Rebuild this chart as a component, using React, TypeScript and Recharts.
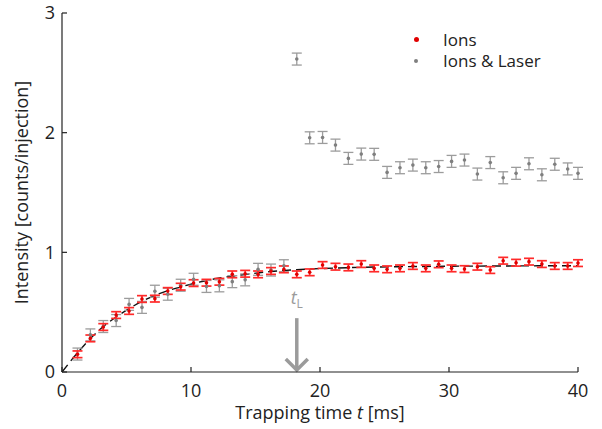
import React from 'react';
import {
  ComposedChart,
  Scatter,
  Line,
  XAxis,
  YAxis,
  ErrorBar,
  ReferenceLine,
} from 'recharts';

// measurement times [ms]
const times = [
  1.2, 2.2, 3.2, 4.2, 5.2, 6.2, 7.2, 8.2, 9.2, 10.2,
  11.2, 12.2, 13.2, 14.2, 15.2, 16.2, 17.2, 18.2, 19.2, 20.2,
  21.2, 22.2, 23.2, 24.2, 25.2, 26.2, 27.2, 28.2, 29.2, 30.2,
  31.2, 32.2, 33.2, 34.2, 35.2, 36.2, 37.2, 38.2, 39.2, 40,
];

const ions = [
  0.148, 0.281, 0.376, 0.476, 0.51, 0.61, 0.613, 0.677, 0.713, 0.743,
  0.746, 0.754, 0.816, 0.821, 0.816, 0.844, 0.858, 0.816, 0.833, 0.894,
  0.88, 0.874, 0.902, 0.866, 0.858, 0.866, 0.886, 0.866, 0.9, 0.866,
  0.86, 0.88, 0.852, 0.93, 0.913, 0.922, 0.902, 0.886, 0.886, 0.91,
];

const ionsLaser = [
  0.15, 0.31, 0.38, 0.43, 0.565, 0.54, 0.675, 0.65, 0.725, 0.775,
  0.715, 0.72, 0.755, 0.77, 0.858, 0.852, 0.888, 2.615, 1.957, 1.96,
  1.896, 1.785, 1.821, 1.819, 1.668, 1.707, 1.729, 1.707, 1.717, 1.76,
  1.771, 1.654, 1.75, 1.623, 1.66, 1.74, 1.648, 1.736, 1.697, 1.66,
];

const ionsErr = 0.028;
const laserErr = 0.05;

// saturation fit
const fitTimes = [0, 1.2, 2.2, 3.2, 4.2, 5.2, 6.2, 7.2, 8.2, 9.2, 10.2, 12.2, 14.2, 16.2, 18.2, 20.2, 22.2, 24.2, 26.2, 28.2, 30.2, 32.2, 34.2, 36.2, 38.2, 40];
const fitValues = [0, 0.16, 0.28, 0.38, 0.46, 0.53, 0.59, 0.64, 0.68, 0.71, 0.74, 0.785, 0.815, 0.84, 0.855, 0.865, 0.872, 0.877, 0.88, 0.882, 0.884, 0.885, 0.886, 0.887, 0.888, 0.888];

const xTicks = [0, 10, 20, 30, 40];
const yTicks = [0, 1, 2, 3];

const arrowTime = 18.2;

const FONT = '"Open Sans", sans-serif';

const ionsData = times.map((t, i) => ({ t, v: ions[i], e: ionsErr }));
const laserData = times.map((t, i) => ({ t, v: ionsLaser[i], e: laserErr }));
const fitData = fitTimes.map((t, i) => ({ t, v: fitValues[i] }));

const Dot = ({ cx, cy, fill }: any) => <circle cx={cx} cy={cy} r={1.8} fill={fill} />;

const Arrow = (props: any) => {
  const { x1, y1, x2, y2 } = props;
  const top = Math.min(y1, y2);
  const bottom = Math.max(y1, y2);
  const x = x1;
  return (
    <g>
      <line x1={x} y1={top} x2={x} y2={bottom - 2} stroke="#9b9b9b" strokeWidth={3.5} />
      <polyline
        points={`${x - 11},${bottom - 13} ${x},${bottom - 2} ${x + 11},${bottom - 13}`}
        fill="none"
        stroke="#9b9b9b"
        strokeWidth={3.5}
      />
      <text x={x} y={top - 14} textAnchor="middle" fill="#9b9b9b" fontFamily={FONT} fontSize={18}>
        <tspan fontStyle="italic">t</tspan>
        <tspan fontSize={12} dy={4}>L</tspan>
      </text>
    </g>
  );
};

const XLabel = ({ viewBox }: any) => {
  const cx = viewBox.x + viewBox.width / 2;
  return (
    <text x={cx} y={419} textAnchor="middle" fill="#222" fontFamily={FONT} fontSize={18}>
      Trapping time <tspan fontStyle="italic">t</tspan> [ms]
    </text>
  );
};

const YLabel = ({ viewBox }: any) => {
  const cy = viewBox.y + viewBox.height / 2;
  return (
    <text
      x={28}
      y={cy}
      transform={`rotate(-90, 28, ${cy})`}
      textAnchor="middle"
      fill="#222"
      fontFamily={FONT}
      fontSize={18}
    >
      Intensity [counts/injection]
    </text>
  );
};

export default function App() {
  const tickStyle = { fontSize: 18, fill: '#222', fontFamily: FONT };
  const axisLine = { stroke: '#222', strokeWidth: 1.2 };
  return (
    <div style={{ position: 'absolute', left: 0, top: 0, width: 602, height: 429, background: '#fff' }}>
      <ComposedChart width={602} height={429} margin={{ top: 13, right: 24, bottom: 0, left: 0 }}>
        <XAxis
          dataKey="t"
          type="number"
          domain={[0, 40]}
          ticks={xTicks}
          tickSize={-5}
          tickMargin={17}
          height={57}
          tick={tickStyle}
          axisLine={axisLine}
          tickLine={axisLine}
          label={<XLabel />}
        />
        <XAxis
          xAxisId="top"
          orientation="top"
          type="number"
          domain={[0, 40]}
          ticks={xTicks}
          tickSize={-5}
          height={0}
          tickFormatter={() => ''}
          axisLine={axisLine}
          tickLine={axisLine}
        />
        <YAxis
          type="number"
          domain={[0, 3]}
          ticks={yTicks}
          tickSize={-5}
          tickMargin={12}
          width={62}
          tick={tickStyle}
          axisLine={axisLine}
          tickLine={axisLine}
          label={<YLabel />}
        />
        <YAxis
          yAxisId="right"
          orientation="right"
          type="number"
          domain={[0, 3]}
          ticks={yTicks}
          tickSize={-5}
          width={0}
          tickFormatter={() => ''}
          axisLine={axisLine}
          tickLine={axisLine}
        />
        <Line
          data={fitData}
          dataKey="v"
          type="monotone"
          stroke="#111"
          strokeWidth={1.4}
          strokeDasharray="9 5"
          dot={false}
          activeDot={false}
          isAnimationActive={false}
        />
        <Scatter
          data={laserData}
          dataKey="v"
          fill="#7f7f7f"
          shape={<Dot />}
          isAnimationActive={false}
        >
          <ErrorBar dataKey="e" direction="y" width={5} stroke="#9c9c9c" strokeWidth={1.3} />
        </Scatter>
        <Scatter
          data={ionsData}
          dataKey="v"
          fill="#e00000"
          shape={<Dot />}
          isAnimationActive={false}
        >
          <ErrorBar dataKey="e" direction="y" width={5} stroke="#ff2a2a" strokeWidth={1.7} />
        </Scatter>
        <ReferenceLine
          segment={[{ x: arrowTime, y: 0.45 }, { x: arrowTime, y: 0 }]}
          shape={<Arrow />}
        />
      </ComposedChart>
      <div
        style={{
          position: 'absolute',
          left: 408,
          top: 29,
          fontFamily: FONT,
          fontSize: 17,
          color: '#222',
          lineHeight: '21px',
        }}
      >
        <div style={{ display: 'flex', alignItems: 'center', height: 21 }}>
          <span style={{ width: 5, height: 5, borderRadius: 3, background: '#e00000', marginLeft: 6, marginRight: 24 }} />
          <span>Ions</span>
        </div>
        <div style={{ display: 'flex', alignItems: 'center', height: 21 }}>
          <span style={{ width: 4, height: 4, borderRadius: 2, background: '#7f7f7f', marginLeft: 6, marginRight: 25 }} />
          <span>Ions &amp; Laser</span>
        </div>
      </div>
    </div>
  );
}
